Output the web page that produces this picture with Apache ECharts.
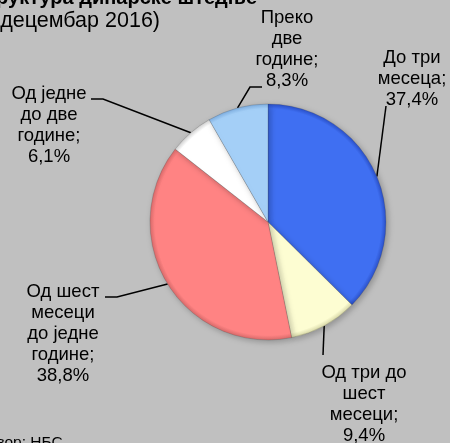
<!DOCTYPE html>
<html>
<head>
<meta charset="utf-8">
<script src="https://cdn.jsdelivr.net/npm/echarts@6/dist/echarts.min.js"></script>
<style>
  html, body { margin: 0; padding: 0; background: #c0c0c0; }
  #chart { width: 450px; height: 443px; }
</style>
</head>
<body>
<div id="chart"></div>
<script>
// Рочна структура динарске штедње, децембар 2016 (у %)
const categories = [
  'До три\nмесеца',
  'Од три до\nшест\nмесеци',
  'Од шест\nмесеци\nдо једне\nгодине',
  'Од једне\nдо две\nгодине',
  'Преко\nдве\nгодине'
];
const shares = [37.4, 9.4, 38.8, 6.1, 8.3];
const sliceColors = ['#3f6ff2', '#fdfdd2', '#ff8383', '#ffffff', '#a4cff7'];
const edgeColors  = ['#2a50c8', '#d8d8a8', '#d86a6a', '#d0d0d0', '#7eaee0'];

// label placement: text centre and the elbow / end of each leader line
const labelPlaces = [
  { x: 412, y: 79,  elbow: [386, 106], end: [386, 106] },
  { x: 364, y: 404, elbow: [323, 355], end: [323, 355] },
  { x: 63,  y: 334, elbow: [117, 297], end: [105, 297] },
  { x: 49,  y: 125, elbow: [103, 99],  end: [91, 99] },
  { x: 287, y: 49,  elbow: [250, 87],  end: [262, 87] }
];

const CX = 268, CY = 222, R = 118;
const fontFamily = '"Liberation Sans", Arial, sans-serif';

function shade(i) {
  return {
    type: 'radial', x: CX, y: CY, r: R, global: true,
    colorStops: [
      { offset: 0, color: sliceColors[i] },
      { offset: 0.9, color: sliceColors[i] },
      { offset: 0.96, color: sliceColors[i] },
      { offset: 1, color: edgeColors[i] }
    ]
  };
}

const chart = echarts.init(document.getElementById('chart'), null, { renderer: 'canvas' });

chart.setOption({
  backgroundColor: '#c0c0c0',
  animation: false,
  graphic: [
    {
      type: 'text', x: 257, y: 8,
      style: {
        text: 'Структура динарске штедње', textAlign: 'right', textVerticalAlign: 'bottom',
        font: 'bold 20px ' + fontFamily, fill: '#000'
      }
    },
    {
      type: 'text', x: 160, y: 32,
      style: {
        text: '(децембар 2016)', textAlign: 'right', textVerticalAlign: 'bottom',
        font: '21.5px ' + fontFamily, fill: '#000'
      }
    },
    {
      type: 'text', x: 67, y: 435,
      style: {
        text: 'Извор: НБС.', textAlign: 'right', textVerticalAlign: 'top',
        font: '15.5px ' + fontFamily, fill: '#000'
      }
    }
  ],
  series: [{
    type: 'pie',
    center: [CX, CY],
    radius: R,
    startAngle: 90,
    clockwise: true,
    avoidLabelOverlap: false,
    itemStyle: {
      borderColor: 'rgba(60,60,60,0.35)',
      borderWidth: 0.6,
      shadowBlur: 6,
      shadowOffsetX: 2,
      shadowOffsetY: 2,
      shadowColor: 'rgba(0,0,0,0.25)'
    },
    label: {
      show: true,
      position: 'outside',
      color: '#000',
      fontFamily: fontFamily,
      fontSize: 18.5,
      lineHeight: 21,
      align: 'center',
      formatter: p => p.name + ';\n' + p.value.toFixed(1).replace('.', ',') + '%'
    },
    labelLine: {
      show: true,
      length: 10,
      length2: 10,
      lineStyle: { color: '#000', width: 1.5 }
    },
    labelLayout: params => {
      const pl = labelPlaces[params.dataIndex];
      const start = params.labelLinePoints ? params.labelLinePoints[0] : pl.elbow;
      return {
        x: pl.x, y: pl.y, align: 'center', verticalAlign: 'middle',
        labelLinePoints: [start, pl.elbow, pl.end]
      };
    },
    emphasis: { disabled: true },
    data: categories.map((name, i) => ({
      name: name,
      value: shares[i],
      itemStyle: { color: shade(i) }
    }))
  }]
});
</script>
</body>
</html>
